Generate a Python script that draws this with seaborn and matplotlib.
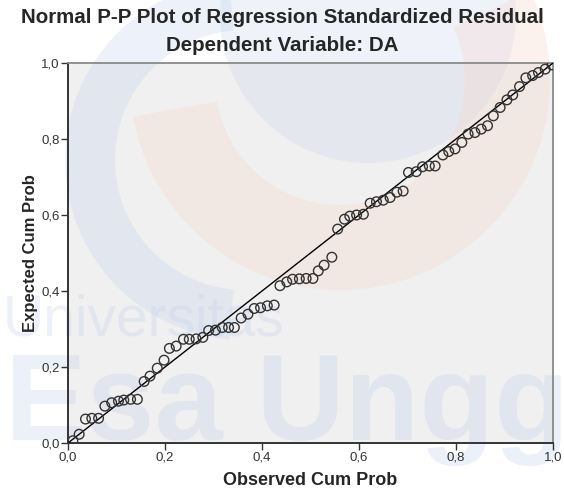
import numpy as np
import pandas as pd
import seaborn as sns
import matplotlib.pyplot as plt
from matplotlib.patches import Wedge, Rectangle
from matplotlib.ticker import FuncFormatter

# observed vs expected cumulative probability
observed = [0.010, 0.023, 0.036, 0.049, 0.063, 0.076, 0.090, 0.104, 0.115, 0.129,
            0.143, 0.157, 0.169, 0.184, 0.198, 0.209, 0.223, 0.238, 0.250, 0.264,
            0.278, 0.290, 0.304, 0.318, 0.331, 0.343, 0.357, 0.371, 0.384, 0.397,
            0.411, 0.425, 0.437, 0.451, 0.463, 0.477, 0.491, 0.505, 0.516, 0.528,
            0.544, 0.556, 0.570, 0.581, 0.595, 0.609, 0.623, 0.636, 0.650, 0.664,
            0.678, 0.691, 0.702, 0.718, 0.731, 0.745, 0.757, 0.773, 0.785, 0.798,
            0.812, 0.825, 0.839, 0.852, 0.865, 0.877, 0.891, 0.905, 0.917, 0.931,
            0.944, 0.958, 0.970, 0.984, 0.998]
expected = [0.006, 0.023, 0.063, 0.065, 0.065, 0.097, 0.106, 0.110, 0.113, 0.115,
            0.115, 0.162, 0.176, 0.197, 0.218, 0.249, 0.255, 0.273, 0.273, 0.274,
            0.278, 0.296, 0.297, 0.304, 0.304, 0.304, 0.329, 0.339, 0.354, 0.356,
            0.361, 0.363, 0.414, 0.424, 0.431, 0.432, 0.433, 0.433, 0.453, 0.468,
            0.489, 0.563, 0.589, 0.597, 0.600, 0.602, 0.631, 0.635, 0.639, 0.646,
            0.660, 0.663, 0.712, 0.714, 0.727, 0.729, 0.729, 0.758, 0.767, 0.774,
            0.791, 0.813, 0.817, 0.826, 0.835, 0.861, 0.883, 0.903, 0.916, 0.938,
            0.961, 0.967, 0.975, 0.984, 0.995]
ticks = [0.0, 0.2, 0.4, 0.6, 0.8, 1.0]

df = pd.DataFrame({"Observed Cum Prob": observed, "Expected Cum Prob": expected})

sns.set_style("white")
plt.rcParams['font.family'] = ['Liberation Sans', 'DejaVu Sans']

W, H = 564, 490
fig = plt.figure(figsize=(W / 100, H / 100), dpi=100)

ax = fig.add_axes([0.1206, 0.0959, 0.8599, 0.7755], zorder=1)
ax.patch.set_alpha(0)

# background layer: grey plot area + faint university watermark over it
bg = fig.add_axes([0, 0, 1, 1], zorder=0)
bg.set_xlim(0, W)
bg.set_ylim(H, 0)
bg.axis("off")
pos = ax.get_position()
bg.add_patch(Rectangle((pos.x0 * W, (1 - pos.y1) * H), pos.width * W, pos.height * H,
                       color="#f0f0f0", lw=0))
blue = "#c1cfeb"
orange = "#f5d4c8"
bg.add_patch(Wedge((245, 160), 180, 95, 265, width=50, color=blue, alpha=0.28, lw=0))
bg.add_patch(Wedge((368, 15), 148, 0, 360, color=blue, alpha=0.25, lw=0))
bg.add_patch(Wedge((340, 80), 210, -25, 170, width=85, color=orange, alpha=0.3, lw=0))
bg.text(3, 335, "Universitas", fontsize=41, color=blue, alpha=0.3,
        ha="left", va="baseline")
bg.text(5, 440, "Esa Unggul", fontsize=88, color=blue, alpha=0.3,
        ha="left", va="baseline", fontweight="bold")

ax.plot([0, 1], [0, 1], color="black", lw=1.0, zorder=3)
sns.scatterplot(data=df, x="Observed Cum Prob", y="Expected Cum Prob", ax=ax,
                marker="o", s=48, facecolor="none", edgecolor="#333333",
                linewidth=1.0, zorder=4)

ax.set_xlim(0, 1)
ax.set_ylim(0, 1)
ax.set_xticks(ticks)
ax.set_yticks(ticks)
fmt = FuncFormatter(lambda v, p: f"{v:.1f}".replace(".", ","))
ax.xaxis.set_major_formatter(fmt)
ax.yaxis.set_major_formatter(fmt)
ax.tick_params(axis="both", direction="out", length=5, width=1, color="#333333",
               labelsize=9.5, labelcolor="#333333", bottom=True, left=True, pad=1)

for s in ["left", "bottom"]:
    ax.spines[s].set_color("#333333")
    ax.spines[s].set_linewidth(1.4)
for s in ["top", "right"]:
    ax.spines[s].set_color("#8a8a8a")
    ax.spines[s].set_linewidth(1.3)

ax.set_xlabel("Observed Cum Prob", fontsize=13, fontweight="bold", labelpad=6)
ax.set_ylabel("Expected Cum Prob", fontsize=12, fontweight="bold", labelpad=2)

fig.text(0.5, 0.965, "Normal P-P Plot of Regression Standardized Residual",
         fontsize=14.8, fontweight="bold", ha="center", va="center")
fig.text(0.5, 0.908, "Dependent Variable: DA",
         fontsize=14.8, fontweight="bold", ha="center", va="center")

fig.savefig("out.png", dpi=100)
